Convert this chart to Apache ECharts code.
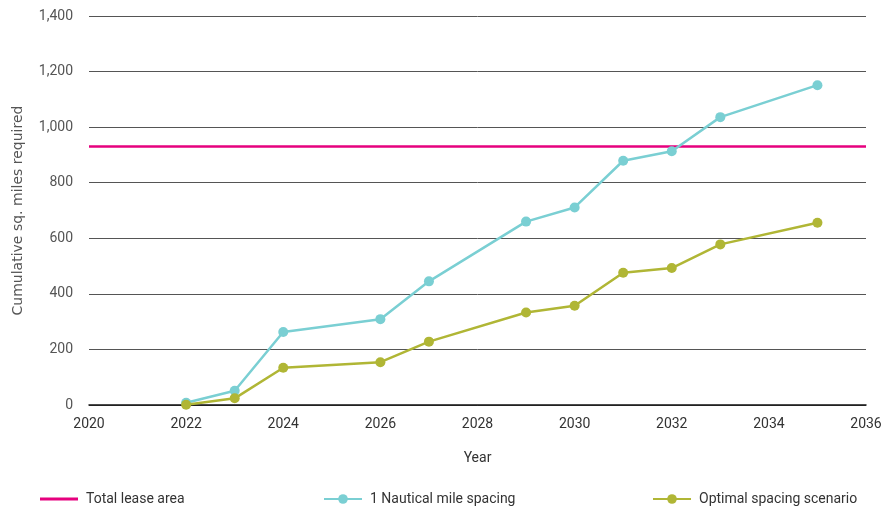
<!DOCTYPE html>
<html><head><meta charset="utf-8">
<script src="https://cdn.jsdelivr.net/npm/echarts@6/dist/echarts.min.js"></script>
<style>html,body{margin:0;padding:0;background:#fff}#c{width:890px;height:506px}</style>
</head><body><div id="c"></div>
<script>
const years = [2022, 2023, 2024, 2026, 2027, 2029, 2030, 2031, 2032, 2033, 2035];
const nauticalMile = [8, 51, 263, 309, 445, 660, 711, 879, 913, 1036, 1151];
const optimal = [1, 24, 134, 154, 228, 333, 357, 476, 493, 578, 656];
const leaseArea = 930;
const xRange = [2020, 2036];
const seriesNames = ['Total lease area', '1 Nautical mile spacing', 'Optimal spacing scenario'];

const fmt = v => String(v).replace(/\B(?=(\d{3})+(?!\d))/g, ',');
const font = 'Roboto, "Noto Sans", sans-serif';
const chart = echarts.init(document.getElementById('c'));
const legendText = {color: '#333', fontSize: 14, fontFamily: font, padding: [0, 0, 0, 3]};
chart.setOption({
  animation: false,
  grid: {left: 89, right: 24, top: 16, bottom: 101, outerBoundsMode: 'none', containLabel: false},
  legend: [
    {left: 35, top: 487, itemWidth: 38, itemHeight: 3, icon: 'rect', data: [seriesNames[0]], textStyle: legendText},
    {left: 318, top: 487, itemWidth: 38, itemHeight: 12, data: [seriesNames[1]], textStyle: legendText},
    {left: 647, top: 487, itemWidth: 38, itemHeight: 12, data: [seriesNames[2]], textStyle: legendText}
  ],
  xAxis: {
    type: 'value', min: xRange[0], max: xRange[1], interval: 2,
    name: 'Year', nameLocation: 'middle', nameGap: 46,
    nameTextStyle: {color: '#333', fontSize: 14, fontFamily: font},
    axisLine: {lineStyle: {color: '#111', width: 1.5}},
    axisTick: {show: false},
    splitLine: {show: false},
    axisLabel: {color: '#333', fontSize: 14, fontFamily: font, margin: 12, formatter: v => String(v)}
  },
  yAxis: {
    type: 'value', min: 0, max: 1400, interval: 200,
    name: 'Cumulative sq. miles required', nameLocation: 'middle', nameGap: 64, nameRotate: 90,
    nameTextStyle: {color: '#555', fontSize: 14, fontFamily: '"DejaVu Sans", sans-serif', padding: [0, 0, 0, 0]},
    axisLine: {show: false}, axisTick: {show: false},
    splitLine: {lineStyle: {color: '#555', width: 1}},
    axisLabel: {color: '#555', fontSize: 14, fontFamily: font, margin: 16, formatter: fmt}
  },
  series: [
    {
      name: seriesNames[0], type: 'line', symbol: 'none',
      data: [[xRange[0], leaseArea], [xRange[1], leaseArea]],
      lineStyle: {color: '#e6007e', width: 2.5}, itemStyle: {color: '#e6007e'}, z: 3
    },
    {
      name: seriesNames[1], type: 'line', symbol: 'circle', symbolSize: 10,
      data: years.map((y, i) => [y, nauticalMile[i]]),
      lineStyle: {color: '#7acfd3', width: 2.5}, itemStyle: {color: '#7acfd3'}, z: 4
    },
    {
      name: seriesNames[2], type: 'line', symbol: 'circle', symbolSize: 10,
      data: years.map((y, i) => [y, optimal[i]]),
      lineStyle: {color: '#b0b635', width: 2.5}, itemStyle: {color: '#b0b635'}, z: 5
    }
  ]
});
</script></body></html>
